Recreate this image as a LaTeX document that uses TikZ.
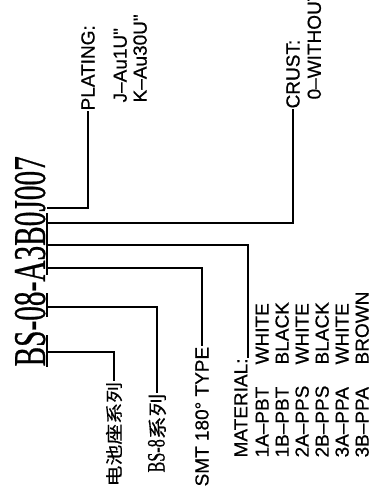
\documentclass[tikz,border=0pt]{standalone}
\usepackage{fontspec}
\newfontfamily\cadfont[FakeStretch=1.0, FakeBold=0.6]{Liberation Sans}
\newfontfamily\titlefont[FakeStretch=0.646, FakeBold=0.5]{Liberation Serif}
\newfontfamily\cjkfont[FakeStretch=1.2, FakeBold=0.4]{Noto Sans CJK SC}
\newcommand{\matrow}[2]{\makebox[46.5pt][l]{#1}#2}

\begin{document}
\begin{tikzpicture}[
  x=0.5pt, y=-0.5pt, line width=0.6pt,
  partno/.style  = {rotate=90, inner sep=0pt, font=\titlefont\fontsize{22.7}{24}\selectfont},
  callout/.style = {rotate=90, inner sep=0pt, align=left, font=\cadfont\fontsize{9.5}{10}\selectfont},
  cjk/.style     = {rotate=90, inner sep=0pt, font=\cjkfont\fontsize{8.7}{9}\selectfont},
]
  \useasboundingbox (0,0) rectangle (374,494);

  % part number, read bottom to top
  \node[partno, anchor=south west] (pn) at (46,367) {BS-08-A3B0J007};

  % underline marks below the code groups
  \draw (47,335) -- (47,367);
  \draw (47,293) -- (47,317);
  \draw (47,213) -- (47,275);

  \coordinate (u-BS) at (47,352);
  \coordinate (u-08) at (47,307);
  \coordinate (u-A)  at (47,268);
  \coordinate (u-3B) at (47,245);
  \coordinate (u-0)  at (47,223);
  \coordinate (u-J)  at (47,208);

  % callouts above
  \node[callout, anchor=west]       (plating) at (88,111)  {PLATING:};
  \node[callout, anchor=north west] (platopt) at (113,103) {J–Au1U"\\K–Au30U"};
  \node[callout, anchor=west]       (crust)   at (293,109) {CRUST:};
  \node[callout, anchor=north west] (crustopt) at (307,100) {0–WITHOUT};

  % callouts below
  \node[cjk, anchor=west] (series) at (114,487) {电池座系列};
  \node[cjk, anchor=west] (subser) at (157,473)
    {{\titlefont\fontsize{12.5}{14}\selectfont BS-8}\fontsize{9.5}{10}\selectfont 系列};
  \node[callout, anchor=west]       (smt)  at (202,487) {SMT 180° TYPE};
  \node[callout, anchor=south west] (matl) at (248,458) {MATERIAL:};
  \node[callout, anchor=north west] (matlist) at (255,458)
    {\matrow{1A–PBT}{WHITE}\\\matrow{1B–PBT}{BLACK}\\\matrow{2A–PPS}{WHITE}\\
     \matrow{2B–PPS}{BLACK}\\\matrow{3A–PPA}{WHITE}\\\matrow{3B–PPA}{BROWN}};

  \draw (u-J)  -| (plating.west);
  \draw (u-0)  -| (crust.west);
  \draw (u-3B) -| (matl.south east);
  \draw (u-A)  -| (smt.east);
  \draw (u-08) -| (subser.east);
  \draw (u-BS) -| (series.east);
\end{tikzpicture}
\end{document}
